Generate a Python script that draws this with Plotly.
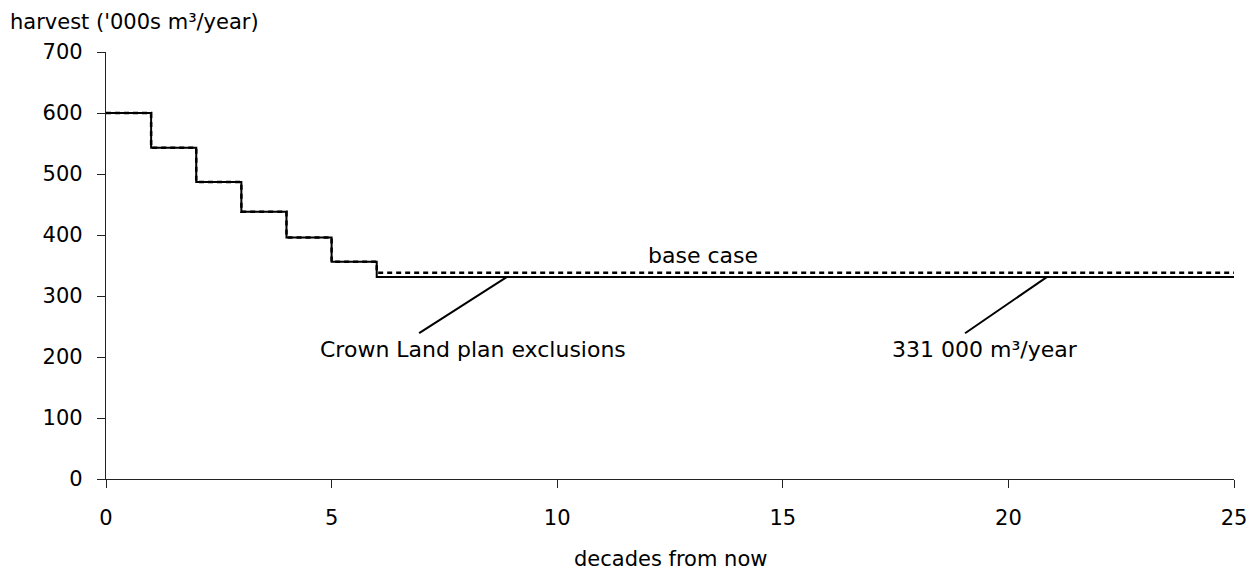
import plotly.graph_objects as go

decades = [0, 1, 2, 3, 4, 5, 6, 25]
crown_land = [600, 543, 487, 438, 396, 356, 331, 331]
base_case = [600, 543, 487, 438, 396, 356, 338, 338]

y_ticks = [0, 100, 200, 300, 400, 500, 600, 700]
x_ticks = [0, 5, 10, 15, 20, 25]

# leader lines: (x0, y0) -> (x1, y1) in data units
leader_crown = [6.94, 239, 8.88, 331]
leader_331 = [19.04, 239, 20.85, 331]

FONT = "DejaVu Sans, Arial, sans-serif"
FS = 21
FS_NOTE = 22

fig = go.Figure()
fig.add_trace(go.Scatter(x=decades, y=crown_land, mode="lines", line_shape="hv",
                         line=dict(color="black", width=2), name="Crown Land plan exclusions"))
fig.add_trace(go.Scatter(x=decades, y=base_case, mode="lines", line_shape="hv",
                         line=dict(color="black", width=2.5, dash="5px,4px"), name="base case"))

for ld in (leader_crown, leader_331):
    fig.add_shape(type="line", x0=ld[0], y0=ld[1], x1=ld[2], y1=ld[3],
                  line=dict(color="black", width=2))

fig.add_annotation(x=13.23, y=367, text="base case", showarrow=False,
                   font=dict(size=FS_NOTE, color="black", family=FONT))
fig.add_annotation(x=8.13, y=212, text="Crown Land plan exclusions", showarrow=False,
                   font=dict(size=FS_NOTE, color="black", family=FONT))
fig.add_annotation(x=19.48, y=212, text="331 000 m³/year", showarrow=False,
                   font=dict(size=FS_NOTE, color="black", family=FONT))
fig.add_annotation(x=0, y=1, xref="paper", yref="paper", xanchor="left", yanchor="middle",
                   xshift=-98, yshift=30,
                   text="harvest ('000s m³/year)", showarrow=False,
                   font=dict(size=FS, color="black", family=FONT))
fig.add_annotation(x=0.5, y=0, xref="paper", yref="paper", xanchor="center", yanchor="middle",
                   yshift=-80,
                   text="decades from now", showarrow=False,
                   font=dict(size=FS, color="black", family=FONT))

fig.update_layout(
    width=1251, height=571,
    margin=dict(l=106, r=17, t=52, b=92, autoexpand=False),
    plot_bgcolor="white", paper_bgcolor="white",
    showlegend=False,
    font=dict(family=FONT, size=FS, color="black"),
    xaxis=dict(range=[0, 25], tickvals=x_ticks, showgrid=False, zeroline=False,
               automargin=False,
               showline=True, linecolor="#222", linewidth=1.2,
               ticks="outside", ticklen=8, tickcolor="#222", tickwidth=1.2,
               ticklabelstandoff=12, ticklabeloverflow="allow",
               tickfont=dict(size=FS, family=FONT, color="black")),
    yaxis=dict(range=[0, 700], tickvals=y_ticks, showgrid=False, zeroline=False,
               automargin=False,
               showline=True, linecolor="#222", linewidth=1.2,
               ticks="outside", ticklen=8, tickcolor="#222", tickwidth=1.2,
               ticklabelstandoff=10,
               tickfont=dict(size=FS, family=FONT, color="black")),
)

fig.write_html("out.html", config={"displayModeBar": False},
               post_script="document.body.style.margin='0px';")
